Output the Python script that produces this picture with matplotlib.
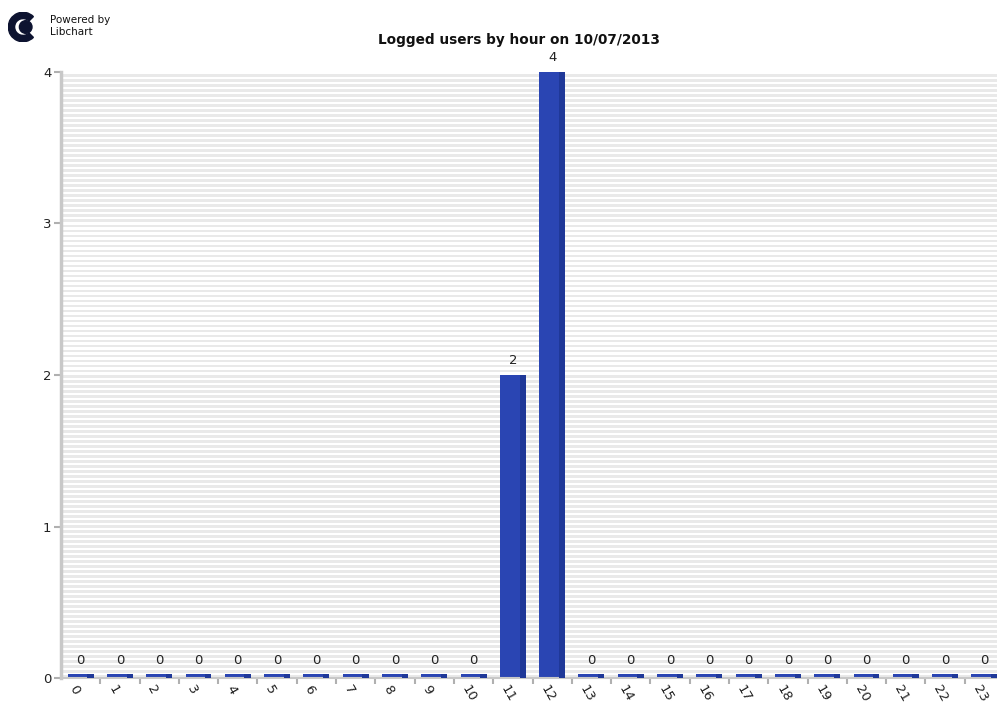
import numpy as np
import matplotlib.pyplot as plt
from matplotlib.patches import Wedge, Circle

# data
hours = [str(h) for h in range(24)]
users = [0, 0, 0, 0, 0, 0, 0, 0, 0, 0, 0, 2, 4, 0, 0, 0, 0, 0, 0, 0, 0, 0, 0, 0]
y_ticks = [0, 1, 2, 3, 4]

title = 'Logged users by hour on 10/07/2013'
bar_color = '#2a45b3'
shade_color = '#1f3898'

fig = plt.figure(figsize=(9.97, 7.04), dpi=100)
W, H = 997, 704
ax = fig.add_axes([61 / W, (H - 678) / H, 943 / W, (678 - 72) / H])

x = np.arange(len(hours))
vals = np.array(users, dtype=float)

# background stripes
ax.set_facecolor('white')
ymax = max(y_ticks)
n_stripes = 242
step = ymax / n_stripes
for i in range(n_stripes):
    if i % 2 == 0:
        ax.axhspan(i * step, i * step + step * 1.1, color='#e9e9e9', lw=0, zorder=0)

# bars (zero values still drawn as a thin strip)
disp = np.where(vals == 0, 0.025, vals)
bw = 0.66
ax.bar(x, disp, width=bw, color=bar_color, zorder=2)
ax.bar(x + bw / 2 - 0.08, disp, width=0.16, color=shade_color, zorder=3)

for xi, v, d in zip(x, users, disp):
    ax.text(xi, d + 0.05, str(v), ha='center', va='bottom', fontsize=9.5, color='#222222')

ax.set_xlim(-0.5, len(hours) - 0.5)
ax.set_ylim(0, ymax)

# spines
for s in ['top', 'right']:
    ax.spines[s].set_visible(False)
ax.spines['left'].set_color('#c8c8c8')
ax.spines['left'].set_linewidth(2.5)
ax.spines['bottom'].set_color('#c8c8c8')
ax.spines['bottom'].set_linewidth(1.5)

ax.set_yticks(y_ticks)
ax.set_yticklabels([str(t) for t in y_ticks], fontsize=9.5, color='#222222')
ax.tick_params(axis='y', length=5, width=1.5, color='#b0b0b0', pad=2)

ax.set_xticks(x[:-1] + 0.5, minor=False)
ax.set_xticklabels([''] * (len(hours) - 1))
ax.tick_params(axis='x', length=4, width=1.5, color='#b0b0b0')
for xi, lab in zip(x, hours):
    ax.text(xi - 0.08, -0.035, lab, rotation=-60, rotation_mode='anchor',
            ha='left', va='top', fontsize=9.5, color='#222222', clip_on=False)

fig.text(519 / W, 1 - 40 / H, title, ha='center', va='center',
         fontsize=9.8, fontweight='bold', color='#111111')

# logo
fig.text(50 / W, 1 - 26 / H, 'Powered by\nLibchart', ha='left', va='center',
         fontsize=7.5, linespacing=1.3, color='#111111')
lax = fig.add_axes([8 / W, 1 - 43 / H, 30 / W, 32 / H])
lax.set_xlim(-1, 1)
lax.set_ylim(-1, 1)
lax.set_aspect('equal')
lax.axis('off')
lax.add_patch(Wedge((0, 0), 0.98, 45, 315, width=0.42, color='#0d1330'))
lax.add_patch(Circle((0.18, 0), 0.42, color='#0d1330'))

fig.savefig('out.png', dpi=100)
